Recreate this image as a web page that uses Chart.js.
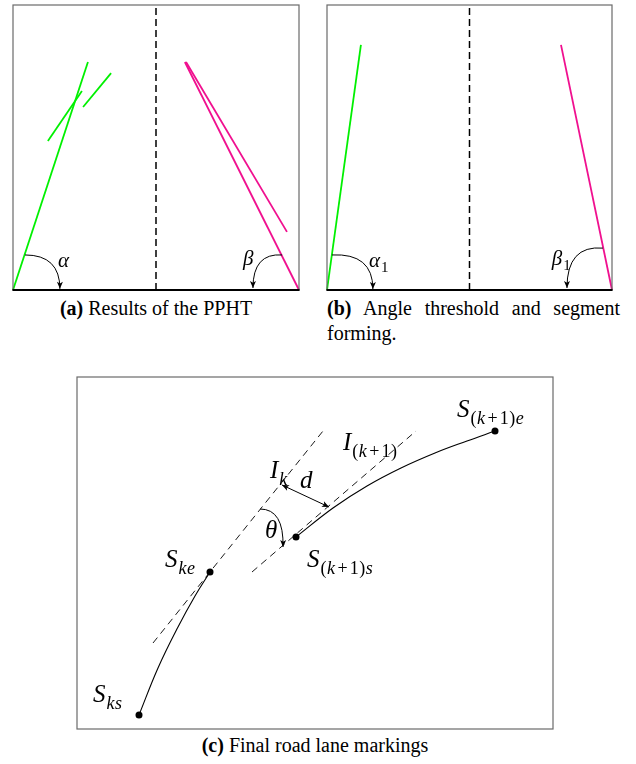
<!DOCTYPE html>
<html>
<head>
<meta charset="utf-8">
<script src="https://cdn.jsdelivr.net/npm/chart.js@4.4.1/dist/chart.umd.min.js"></script>
<style>
  html, body { margin: 0; padding: 0; background: #fff; }
  body { width: 636px; height: 764px; position: relative; overflow: hidden;
         font-family: "Times New Roman", "Liberation Serif", Tinos, "Nimbus Roman", Times, serif; color: #000; }
  .panel { position: absolute; }
  .cap { position: absolute; font-size: 20px; line-height: 25px; }
  .cap b { font-weight: bold; }
</style>
</head>
<body>
<div class="panel" style="left:9px;top:1px;width:294px;height:293px"><canvas id="chartA"></canvas></div>
<div class="panel" style="left:323px;top:1px;width:293px;height:293px"><canvas id="chartB"></canvas></div>
<div class="panel" style="left:73px;top:373px;width:484px;height:360px"><canvas id="chartC"></canvas></div>

<div class="cap" style="left:13px;top:296px;width:286px;text-align:center"><b>(a)</b> Results of the PPHT</div>
<div class="cap" style="left:327px;top:296px;width:293px;text-align:justify;text-align-last:left"><b>(b)</b> Angle threshold and segment forming.</div>
<div class="cap" style="left:77px;top:733px;width:476px;text-align:center"><b>(c)</b> Final road lane markings</div>

<script>
'use strict';

/* ── Data ─────────────────────────────────────────────────────────────── */
// panels (a) and (b): box units 0..100 in both directions, origin bottom-left
const aGreenLong   = [[0, 0], [26.2, 80.0]];
const aGreenShort1 = [[12.2, 52.3], [24.1, 69.8]];
const aGreenShort2 = [[24.5, 64.2], [34.3, 76.1]];
const aPinkLong    = [[60.1, 80.0], [100, 0]];
const aPinkShort   = [[60.5, 80.0], [95.8, 20.4]];
const aDivider     = [[50, 0], [50, 100]];
const aArcAlpha    = [[4.2, 12.3], [16.4, 12.3], [16.4, 0.4]];   // start, bend, tip
const aArcBeta     = [[94.1, 12.3], [83.9, 13.0], [83.9, 0.7]];

const bGreen       = [[0, 0], [11.9, 86.0]];
const bPink        = [[82.1, 86.0], [100, 0]];
const bDivider     = [[50, 0], [50, 100]];
const bArcAlpha    = [[1.75, 12.3], [16.1, 13.0], [16.1, 0.35]];
const bArcBeta     = [[96.8, 14.7], [84.2, 15.8], [84.2, 0.7]];

// panel (c): units measured from the frame's bottom edge
const cCurveK      = [[36, 14], [55, 61], [75, 102], [92, 133], [107, 157]];
const cCurveK1     = [[193, 192], [230, 221], [264, 243], [298, 261], [332, 276], [364, 288], [392, 298]];
const cLineIk      = [[50, 86], [220, 298]];
const cLineIk1     = [[149, 157], [313, 298]];
const cEndpoints   = [[36, 14], [107, 157], [193, 192], [392, 298]];   // S_ks, S_ke, S_(k+1)s, S_(k+1)e
const cDistance    = [[179, 244], [226, 222]];
const cArcTheta    = [[157, 220], [181, 220], [180, 182]];

/* ── Colours / fonts ──────────────────────────────────────────────────── */
const GREEN = '#00f000';
const PINK  = '#f0108f';
const SERIF = '"Times New Roman", "Liberation Serif", Tinos, serif';

/* ── Helpers ──────────────────────────────────────────────────────────── */
const toXY = pts => pts.map(([x, y]) => ({ x, y }));

function seg(pts, color, width, dash) {
  return {
    data: toXY(pts), showLine: true, borderColor: color, borderWidth: width,
    borderDash: dash || [], pointRadius: 0, clip: false
  };
}

function curve(pts) {
  return Object.assign(seg(pts, '#000', 1.1), { tension: 0.4 });
}

function arrowHead(ctx, from, tip) {
  const ang = Math.atan2(tip[1] - from[1], tip[0] - from[0]);
  const len = 7, half = 3;
  ctx.save();
  ctx.translate(tip[0], tip[1]);
  ctx.rotate(ang);
  ctx.beginPath();
  ctx.moveTo(0, 0);
  ctx.lineTo(-len, -half);
  ctx.lineTo(-len * 0.75, 0);
  ctx.lineTo(-len, half);
  ctx.closePath();
  ctx.fillStyle = '#000';
  ctx.fill();
  ctx.restore();
}

function drawMath(ctx, x, y, main, sub, size) {
  ctx.fillStyle = '#000';
  ctx.textBaseline = 'alphabetic';
  ctx.textAlign = 'left';
  ctx.font = `italic ${size}px ${SERIF}`;
  ctx.fillText(main, x, y);
  if (!sub) return;
  let cx = x + ctx.measureText(main).width + 1;
  const ss = Math.round(size * 0.72);
  for (const ch of sub) {
    const italic = /[a-z]/i.test(ch);
    ctx.font = `${italic ? 'italic ' : ''}${ss}px ${SERIF}`;
    if (ch === '+') cx += 2;
    ctx.fillText(ch, cx, y + size * 0.26);
    cx += ctx.measureText(ch).width + (ch === '+' ? 2 : 0.5);
  }
}

/* ── Plugin: frame, bent arrows, labels ───────────────────────────────── */
const sketchPlugin = {
  id: 'sketch',
  afterDatasetsDraw(chart, args, opts) {
    const { ctx, chartArea: ca, scales: { x, y } } = chart;
    const px = p => [x.getPixelForValue(p[0]), y.getPixelForValue(p[1])];
    ctx.save();

    // bent angle arrows
    (opts.arcs || []).forEach(a => {
      const [s, c, e] = a.map(px);
      ctx.beginPath();
      ctx.moveTo(s[0], s[1]);
      ctx.quadraticCurveTo(c[0], c[1], e[0], e[1]);
      ctx.strokeStyle = '#000';
      ctx.lineWidth = 1;
      ctx.setLineDash([]);
      ctx.stroke();
      arrowHead(ctx, c, e);
    });

    // double-headed straight arrows
    (opts.arrows || []).forEach(a => {
      const [s, e] = a.map(px);
      ctx.beginPath();
      ctx.moveTo(s[0], s[1]);
      ctx.lineTo(e[0], e[1]);
      ctx.strokeStyle = '#000';
      ctx.lineWidth = 1;
      ctx.stroke();
      arrowHead(ctx, s, e);
      arrowHead(ctx, e, s);
    });

    // labels
    (opts.labels || []).forEach(l => {
      const [lx, ly] = px([l.x, l.y]);
      drawMath(ctx, lx, ly, l.main, l.sub, l.size);
    });

    // frame
    ctx.strokeStyle = '#6a6a6a';
    ctx.lineWidth = 1.2;
    ctx.strokeRect(ca.left, ca.top, ca.right - ca.left, ca.bottom - ca.top);
    if (opts.groundLine) {
      ctx.beginPath();
      ctx.moveTo(ca.left - 0.5, ca.bottom);
      ctx.lineTo(ca.right + 0.5, ca.bottom);
      ctx.strokeStyle = '#000';
      ctx.lineWidth = 1.8;
      ctx.stroke();
    }
    ctx.restore();
  }
};

function makeChart(id, datasets, xr, yr, sketch) {
  return new Chart(document.getElementById(id), {
    type: 'scatter',
    data: { datasets },
    plugins: [sketchPlugin],
    options: {
      responsive: true,
      maintainAspectRatio: false,
      animation: false,
      events: [],
      layout: { padding: 4 },
      plugins: { legend: { display: false }, tooltip: { enabled: false }, sketch },
      scales: {
        x: { type: 'linear', min: xr[0], max: xr[1], display: false },
        y: { type: 'linear', min: yr[0], max: yr[1], display: false }
      }
    }
  });
}

/* ── (a) Results of the PPHT ──────────────────────────────────────────── */
makeChart('chartA', [
  seg(aDivider, '#000', 1.5, [7, 4]),
  seg(aGreenLong, GREEN, 1.8),
  seg(aGreenShort1, GREEN, 1.8),
  seg(aGreenShort2, GREEN, 1.8),
  seg(aPinkLong, PINK, 1.8),
  seg(aPinkShort, PINK, 1.8)
], [0, 100], [0, 100], {
  groundLine: true,
  arcs: [aArcAlpha, aArcBeta],
  labels: [
    { x: 15.7, y: 8.1, main: 'α', size: 21 },
    { x: 80.4, y: 8.6, main: 'β', size: 21 }
  ]
});

/* ── (b) Angle threshold and segment forming ──────────────────────────── */
makeChart('chartB', [
  seg(bDivider, '#000', 1.5, [7, 4]),
  seg(bGreen, GREEN, 1.8),
  seg(bPink, PINK, 1.8)
], [0, 100], [0, 100], {
  groundLine: true,
  arcs: [bArcAlpha, bArcBeta],
  labels: [
    { x: 14.7, y: 8.1, main: 'α', sub: '1', size: 21 },
    { x: 78.9, y: 8.8, main: 'β', sub: '1', size: 21 }
  ]
});

/* ── (c) Final road lane markings ─────────────────────────────────────── */
makeChart('chartC', [
  seg(cLineIk, '#000', 0.9, [7, 5]),
  seg(cLineIk1, '#000', 0.9, [7, 5]),
  curve(cCurveK),
  curve(cCurveK1),
  { data: toXY(cEndpoints), showLine: false, pointRadius: 3.5,
    pointBackgroundColor: '#000', pointBorderWidth: 0, clip: false }
], [-26, 450], [0, 352], {
  arcs: [cArcTheta],
  arrows: [cDistance],
  labels: [
    { x: -10, y: 27,  main: 'S', sub: 'ks',     size: 25 },
    { x: 62,  y: 162, main: 'S', sub: 'ke',     size: 25 },
    { x: 204, y: 162, main: 'S', sub: '(k+1)s', size: 25 },
    { x: 354, y: 312, main: 'S', sub: '(k+1)e', size: 25 },
    { x: 167, y: 251, main: 'I', sub: 'k',      size: 25 },
    { x: 240, y: 279, main: 'I', sub: '(k+1)',  size: 25 },
    { x: 197, y: 241, main: 'd',                size: 25 },
    { x: 162, y: 191, main: 'θ',                size: 25 }
  ]
});
</script>
</body>
</html>
